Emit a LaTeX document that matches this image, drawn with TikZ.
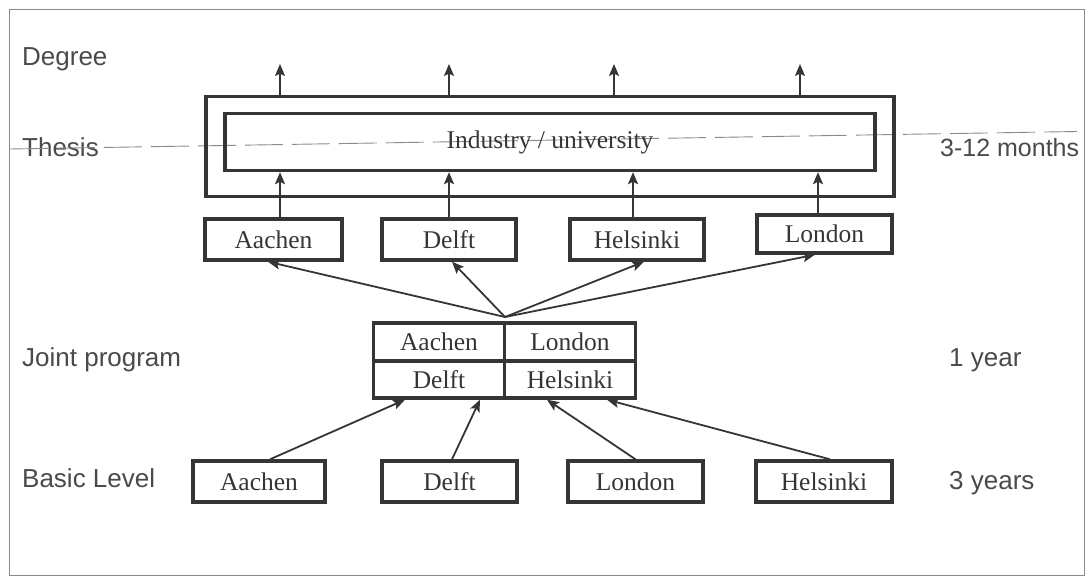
\documentclass[tikz,border=0pt]{standalone}
\usepackage{fontspec}
\setmainfont{Liberation Serif}
\newfontfamily\labelfont{Liberation Sans}
\usetikzlibrary{arrows.meta}
\definecolor{ink}{HTML}{353535}
\definecolor{lab}{HTML}{4A4A4A}
\definecolor{rulecol}{HTML}{8A8A8A}
\begin{document}
\begin{tikzpicture}[x=1pt,y=-1pt,
  box/.style={draw=ink,line width=3.4pt,inner sep=0pt,minimum height=41pt,
    font=\fontsize{25.5}{25.5}\selectfont,text=ink},
  cell/.style={box,minimum width=131pt,minimum height=38pt},
  lbl/.style={anchor=base west,inner sep=0pt,font=\labelfont\fontsize{26}{26}\selectfont,text=lab},
  arr/.style={draw=ink,line width=1.8pt,-{Stealth[length=12pt,width=10pt,inset=2.5pt]}},
  thinrule/.style={draw=rulecol,line width=0.9pt,dash pattern=on 38pt off 9pt},
]
\useasboundingbox (0,0) rectangle (1086,578);
% outer frame
\draw[rulecol,line width=0.9pt] (9,9) rectangle (1084,575);

% row labels
\node[lbl] (deg) at (22,66) {Degree};
\node[lbl] (the) at (22,156) {Thesis};
\node[lbl] (joi) at (22,366) {Joint program};
\node[lbl] (bas) at (22,487) {Basic Level};
\node[lbl,font=\labelfont\fontsize{25}{25}\selectfont] (mon) at (940,156) {3-12 months};
\node[lbl] (yr1) at (949,366) {1 year};
\node[lbl] (yr3) at (949,489) {3 years};

% thin line through thesis row
\coordinate (dl) at (10,149);
\coordinate (dr) at (1077,131.5);
\draw[thinrule] (dl) -- (dr);

% thesis boxes
\node[box,minimum width=688pt,minimum height=100pt] (outer) at (550,146.5) {};
\node[box,minimum width=650pt,minimum height=57pt] (inner) at (550,142) {Industry / university};

% middle row
\node[box,minimum width=137pt] (mA) at (273.5,239.5) {Aachen};
\node[box,minimum width=134pt] (mD) at (449,239.5) {Delft};
\node[box,minimum width=134pt] (mH) at (637,239.5) {Helsinki};
\node[box,minimum width=135pt,minimum height=38pt] (mL) at (824.5,234) {London};

% joint program block
\node[cell] (jA) at (439,342) {Aachen};
\node[cell] (jL) at (570,342) {London};
\node[cell,minimum height=37pt] (jD) at (439,379.5) {Delft};
\node[cell,minimum height=37pt] (jH) at (570,379.5) {Helsinki};

% basic level
\node[box,minimum width=132pt] (bA) at (259,481.5) {Aachen};
\node[box,minimum width=135pt] (bD) at (449.5,481.5) {Delft};
\node[box,minimum width=135pt] (bL) at (635.5,481.5) {London};
\node[box,minimum width=136pt] (bH) at (824,481.5) {Helsinki};

% degree arrows
\coordinate (g1) at (280,64);
\coordinate (g2) at (449,64);
\coordinate (g3) at (614,64);
\coordinate (g4) at (800,64);
\foreach \g in {g1,g2,g3,g4}{
  \draw[arr] (\g |- outer.north) -- (\g);
}

% middle boxes into thesis
\draw[arr] ([xshift=6.5pt]mA.north) -- ([xshift=6.5pt]mA.north |- inner.south);
\draw[arr] (mD.north) -- (mD.north |- inner.south);
\draw[arr] ([xshift=-4pt]mH.north) -- ([xshift=-4pt]mH.north |- inner.south);
\draw[arr] ([xshift=-6.5pt]mL.north) -- ([xshift=-6.5pt]mL.north |- inner.south);

% joint program fan out
\coordinate (J) at (505,317);
\draw[arr] (J) -- ([xshift=-5.5pt]mA.south);
\draw[arr] (J) -- ([xshift=3pt]mD.south);
\draw[arr] (J) -- ([xshift=7pt]mH.south);
\draw[arr] (J) -- ([xshift=-9.5pt]mL.south);

% basic level into joint program
\draw[arr] ([xshift=11pt]bA.north) -- ([xshift=-34pt]jD.south);
\draw[arr] ([xshift=2.5pt]bD.north) -- ([xshift=41pt]jD.south);
\draw[arr] (bL.north) -- ([xshift=-23pt]jH.south);
\draw[arr] ([xshift=6pt]bH.north) -- ([xshift=37pt]jH.south);
\end{tikzpicture}
\end{document}
